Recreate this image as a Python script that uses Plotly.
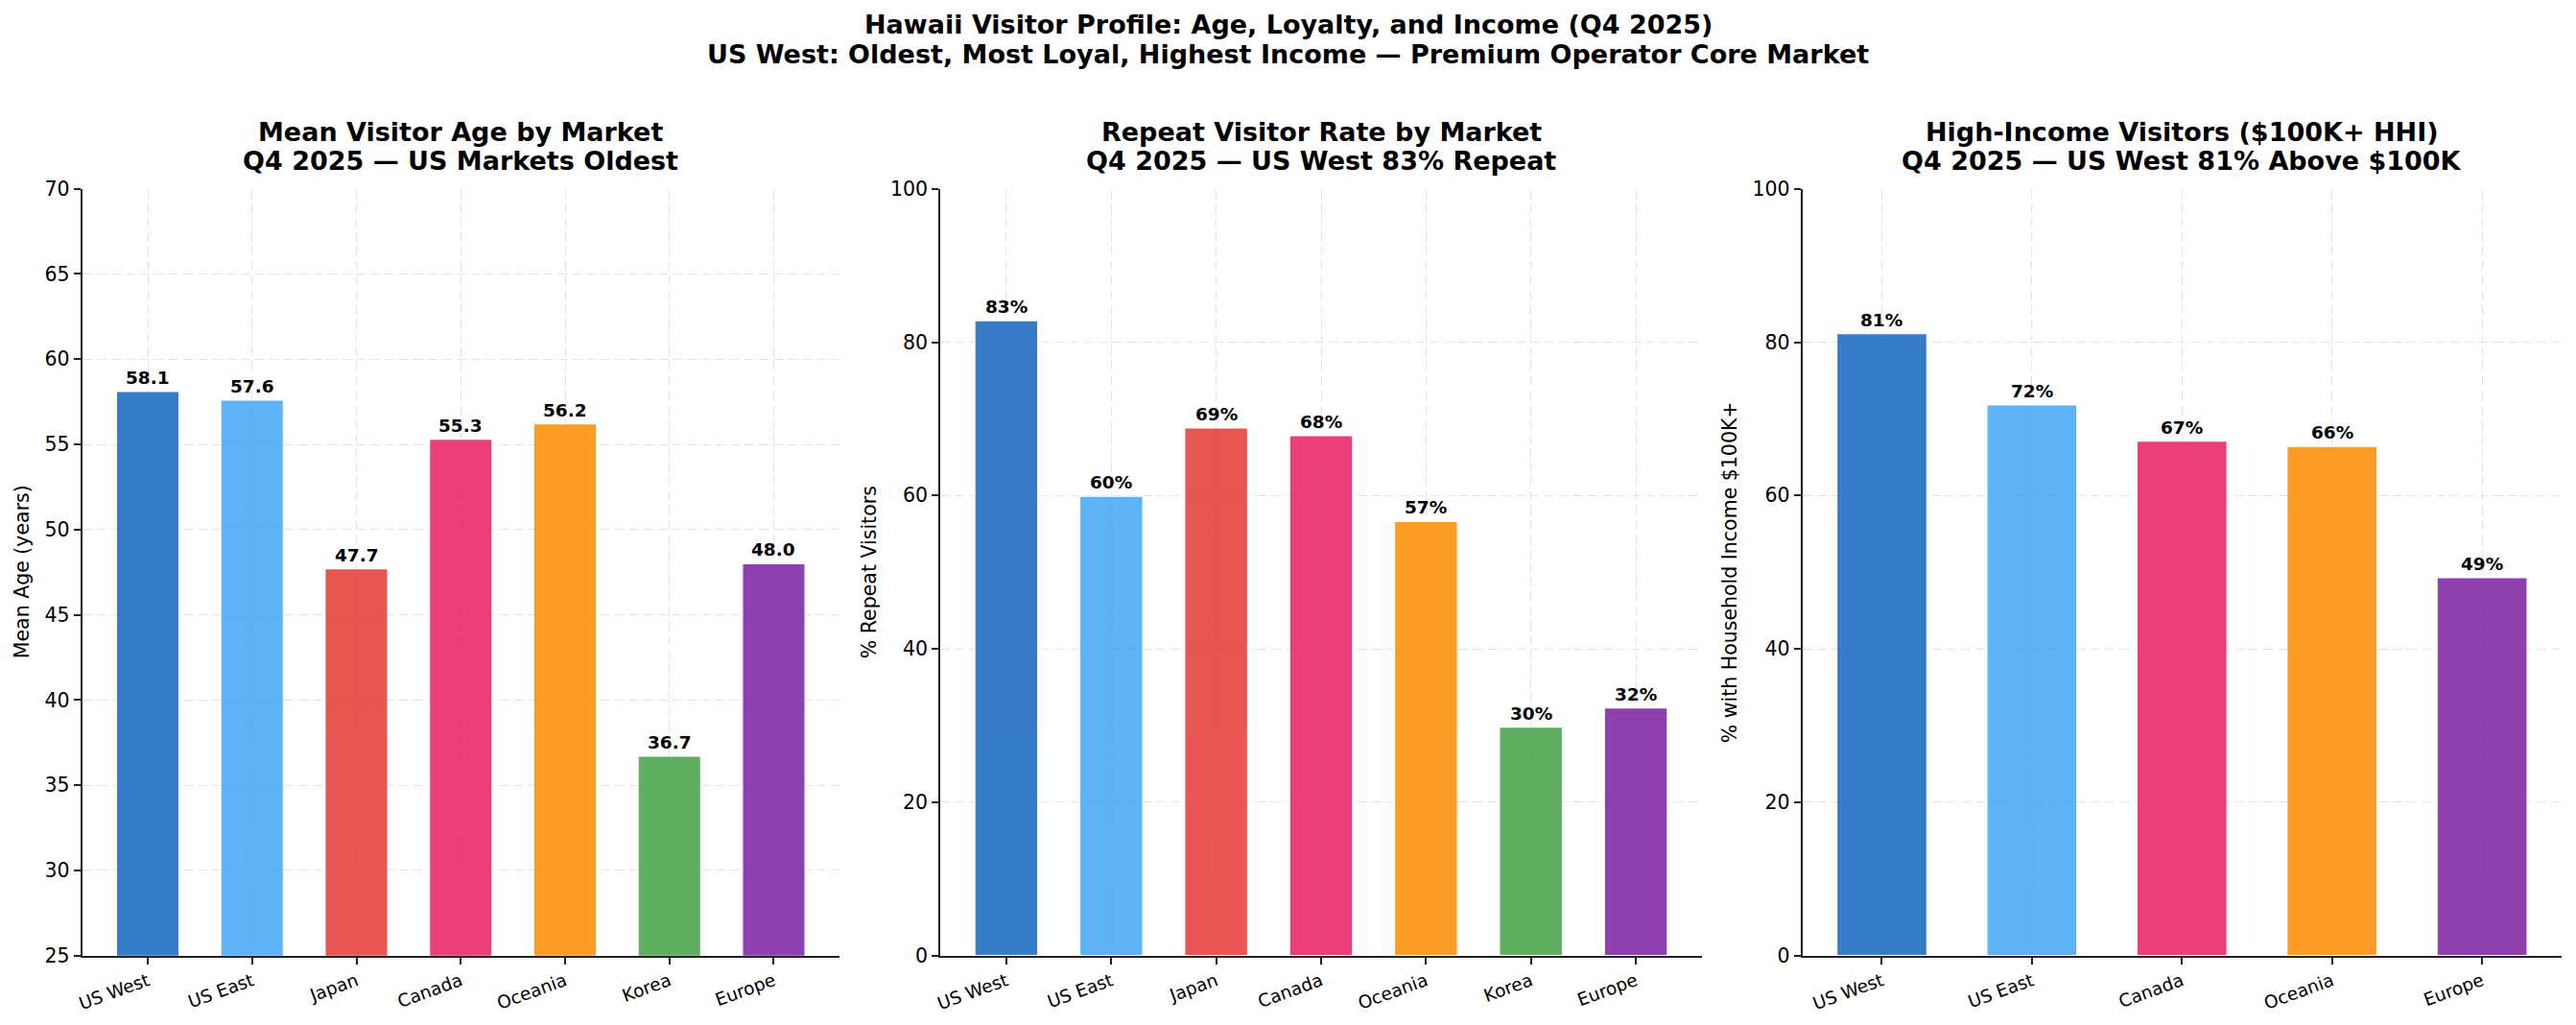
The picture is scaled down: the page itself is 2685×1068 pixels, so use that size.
import plotly.graph_objects as go

# ---------------- data ----------------
markets = ["US West", "US East", "Japan", "Canada", "Oceania", "Korea", "Europe"]
mean_age = [58.1, 57.6, 47.7, 55.3, 56.2, 36.7, 48.0]
repeat_pct = [82.8, 59.9, 68.8, 67.8, 56.6, 29.8, 32.3]
income_markets = ["US West", "US East", "Canada", "Oceania", "Europe"]
income_pct = [81.1, 71.8, 67.1, 66.4, 49.3]

market_colors = {
    "US West": "#1565C0",
    "US East": "#42A5F5",
    "Japan": "#E53935",
    "Canada": "#E91E63",
    "Oceania": "#FB8C00",
    "Korea": "#43A047",
    "Europe": "#7B1FA2",
}

age_ticks = [25, 30, 35, 40, 45, 50, 55, 60, 65, 70]
pct_ticks = [0, 20, 40, 60, 80, 100]

suptitle = ["Hawaii Visitor Profile: Age, Loyalty, and Income (Q4 2025)",
            "US West: Oldest, Most Loyal, Highest Income \u2014 Premium Operator Core Market"]
panel_titles = [
    ["Mean Visitor Age by Market", "Q4 2025 \u2014 US Markets Oldest"],
    ["Repeat Visitor Rate by Market", "Q4 2025 \u2014 US West 83% Repeat"],
    ["High-Income Visitors ($100K+ HHI)", "Q4 2025 \u2014 US West 81% Above $100K"],
]
y_titles = ["Mean Age (years)", "% Repeat Visitors", "% with Household Income $100K+"]

# ---------------- layout geometry ----------------
W, H = 2685, 1068
FONT = "DejaVu Sans"
px_x = lambda v: v / W
px_y = lambda v: 1 - v / H

x_domains = [[85.5, 875], [980, 1774], [1878.6, 2670]]
y_dom = [px_y(995.7), px_y(196.7)]

panels = [
    (markets, mean_age, [25, 70], age_ticks, "{:.1f}"),
    (markets, repeat_pct, [0, 100], pct_ticks, "{:.0f}%"),
    (income_markets, income_pct, [0, 100], pct_ticks, "{:.0f}%"),
]

fig = go.Figure()
annotations = []
layout = dict(
    width=W, height=H,
    margin=dict(l=0, r=0, t=0, b=0),
    paper_bgcolor="white", plot_bgcolor="white",
    showlegend=False,
    bargap=0.4,
    font=dict(family=FONT, color="#000000"),
)

for i, (cats, vals, yr, yt, fmt) in enumerate(panels):
    n = i + 1
    xa = "x" if n == 1 else f"x{n}"
    ya = "y" if n == 1 else f"y{n}"
    fig.add_trace(go.Bar(
        x=cats, y=vals, xaxis=xa, yaxis=ya,
        width=0.6,
        marker=dict(color=[market_colors[c] for c in cats], opacity=0.85,
                    line=dict(color="white", width=1.2)),
        hoverinfo="x+y",
    ))
    m = 0.05 * (len(cats) - 1 + 0.6)
    xr = [-0.3 - m, len(cats) - 1 + 0.3 + m]
    layout["xaxis" if n == 1 else f"xaxis{n}"] = dict(
        domain=[px_x(x_domains[i][0]), px_x(x_domains[i][1])],
        anchor=ya, type="category", range=xr, automargin=False,
        showline=True, linecolor="#222222", linewidth=1.7,
        ticks="outside", ticklen=7, tickwidth=1.6, tickcolor="#222222",
        tickangle=-20, tickfont=dict(family=FONT, size=18.5, color="#000"),
        showgrid=True, gridcolor="#e3e3e3", gridwidth=1.2, griddash="10px,5px",
        zeroline=False, fixedrange=True,
    )
    layout["yaxis" if n == 1 else f"yaxis{n}"] = dict(
        domain=y_dom, anchor=xa, range=yr, tickvals=yt, automargin=False,
        showline=True, linecolor="#222222", linewidth=1.7,
        ticks="outside", ticklen=7, tickwidth=1.6, tickcolor="#222222",
        tickfont=dict(family=FONT, size=20.5, color="#000"),
        showgrid=True, gridcolor="#e3e3e3", gridwidth=1.2, griddash="10px,5px",
        zeroline=False, fixedrange=True,
    )
    # value labels
    for c, v in zip(cats, vals):
        annotations.append(dict(
            x=c, y=v, xref=xa, yref=ya, text="<b>" + fmt.format(v) + "</b>",
            showarrow=False, yanchor="bottom", xanchor="center", yshift=2,
            font=dict(family=FONT, size=18.5, color="#000"),
        ))
    # panel titles
    cx = px_x((x_domains[i][0] + x_domains[i][1]) / 2)
    for line, yc in zip(panel_titles[i], [137, 168]):
        annotations.append(dict(
            x=cx, y=px_y(yc), xref="paper", yref="paper",
            text="<b>" + line + "</b>", showarrow=False,
            xanchor="center", yanchor="middle",
            font=dict(family=FONT, size=27, color="#000"),
        ))
    # y titles
    ytx = [23, 906, 1803][i]
    annotations.append(dict(
        x=px_x(ytx), y=(y_dom[0] + y_dom[1]) / 2, xref="paper", yref="paper",
        text=y_titles[i], textangle=-90, showarrow=False,
        xanchor="center", yanchor="middle",
        font=dict(family=FONT, size=20.5, color="#000"),
    ))

for line, yc in zip(suptitle, [25, 56]):
    annotations.append(dict(
        x=0.5, y=px_y(yc), xref="paper", yref="paper",
        text="<b>" + line + "</b>", showarrow=False,
        xanchor="center", yanchor="middle",
        font=dict(family=FONT, size=27, color="#000"),
    ))

layout["annotations"] = annotations
fig.update_layout(**layout)
fig.write_html("out.html")
